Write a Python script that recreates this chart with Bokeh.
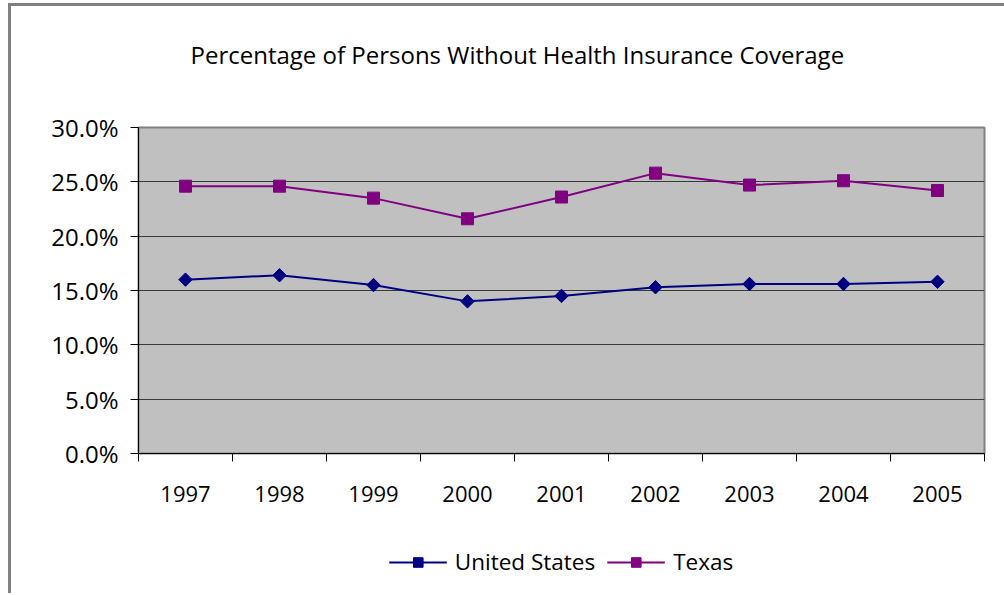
from bokeh.plotting import figure
from bokeh.layouts import column
from bokeh.models import (Range1d, FixedTicker, PrintfTickFormatter, Legend, LegendItem, Title)
from bokeh.embed import file_html
from bokeh.resources import INLINE
import numpy as np

years = ["1997", "1998", "1999", "2000", "2001", "2002", "2003", "2004", "2005"]
us = [16.0, 16.4, 15.5, 14.0, 14.5, 15.3, 15.6, 15.6, 15.8]
texas = [24.6, 24.6, 23.5, 21.6, 23.6, 25.8, 24.7, 25.1, 24.2]
y_ticks = [0, 5, 10, 15, 20, 25, 30]
title_text = "Percentage of Persons Without Health Insurance Coverage"

FONT = "Open Sans"
US_C = "#000080"
TX_C = "#800080"
xs = [i + 0.5 for i in range(len(years))]
bounds = list(range(len(years) + 1))

p = figure(frame_width=846, frame_height=326, output_backend="svg", toolbar_location=None,
           x_range=Range1d(0, len(years)), y_range=Range1d(0, 30),
           min_border_left=127, min_border_right=20, min_border_top=121, min_border_bottom=70,
           background_fill_color="#C0C0C0", border_fill_color="white",
           outline_line_color="#808080", outline_line_width=2)

p.add_layout(Title(text=" ", text_font_size="1px", standoff=54), "above")
p.add_layout(Title(text=title_text, align="left", offset=52, standoff=0,
                   text_font=FONT, text_font_size="24px", text_font_style="normal",
                   text_color="black"), "above")

# grid
p.xgrid.grid_line_color = None
p.ygrid.grid_line_color = "#3a3a3a"
p.ygrid.grid_line_width = 1
p.ygrid.ticker = FixedTicker(ticks=y_ticks)

# x axis
p.xaxis.ticker = FixedTicker(ticks=xs, minor_ticks=bounds)
p.xaxis.major_label_overrides = {x: y for x, y in zip(xs, years)}
p.xaxis.major_tick_out = 0
p.xaxis.major_tick_in = 0
p.xaxis.minor_tick_out = 8
p.xaxis.minor_tick_in = 0
p.xaxis.minor_tick_line_color = "black"
p.xaxis.axis_line_color = "black"
p.xaxis.axis_line_width = 1
p.xaxis.major_label_standoff = 24
p.xaxis.major_label_text_font = FONT
p.xaxis.major_label_text_font_size = "22px"
p.xaxis.major_label_text_color = "black"

# y axis
p.yaxis.ticker = FixedTicker(ticks=y_ticks)
p.yaxis.formatter = PrintfTickFormatter(format="%.1f%%")
p.yaxis.major_tick_out = 8
p.yaxis.major_tick_in = 0
p.yaxis.minor_tick_line_color = None
p.yaxis.axis_line_color = "black"
p.yaxis.major_label_standoff = 12
p.yaxis.major_label_text_font = FONT
p.yaxis.major_label_text_font_size = "24px"
p.yaxis.major_label_text_color = "black"

p.line(xs, us, line_color=US_C, line_width=2)
p.scatter(xs, us, marker="square", angle=np.pi / 4, size=9.5, fill_color=US_C, line_color=US_C)
p.line(xs, texas, line_color=TX_C, line_width=2)
p.scatter(xs, texas, marker="square", size=12, fill_color=TX_C, line_color=TX_C)

# legend strip below the chart (series glyphs kept outside its visible range)
q = figure(frame_width=846, frame_height=70, output_backend="svg", toolbar_location=None,
           x_range=Range1d(0, len(years)), y_range=Range1d(100, 101),
           min_border_left=127, min_border_right=20, min_border_top=0, min_border_bottom=0,
           x_axis_location=None, y_axis_location=None, outline_line_color=None,
           background_fill_color="white", border_fill_color="white")
q.xgrid.visible = False
q.ygrid.visible = False
lq_us = q.line(xs, us, line_color=US_C, line_width=2)
sq_us = q.scatter(xs, us, marker="square", size=10, fill_color=US_C, line_color=US_C)
lq_tx = q.line(xs, texas, line_color=TX_C, line_width=2)
sq_tx = q.scatter(xs, texas, marker="square", size=10, fill_color=TX_C, line_color=TX_C)

legend = Legend(items=[LegendItem(label="United States", renderers=[lq_us, sq_us]),
                       LegendItem(label="Texas", renderers=[lq_tx, sq_tx])],
                orientation="horizontal", location="bottom_center",
                glyph_width=58, glyph_height=24, label_standoff=8, spacing=12,
                padding=0, margin=16, border_line_color=None, background_fill_alpha=0,
                label_text_font=FONT, label_text_font_size="22.5px", label_text_color="black")
q.add_layout(legend, "center")

layout = column(p, q, spacing=0,
                styles={"border-top": "3px solid #808080", "border-left": "3px solid #808080",
                        "margin-top": "3px", "margin-left": "8px"})

open("out.html", "w").write(file_html(layout, INLINE))
